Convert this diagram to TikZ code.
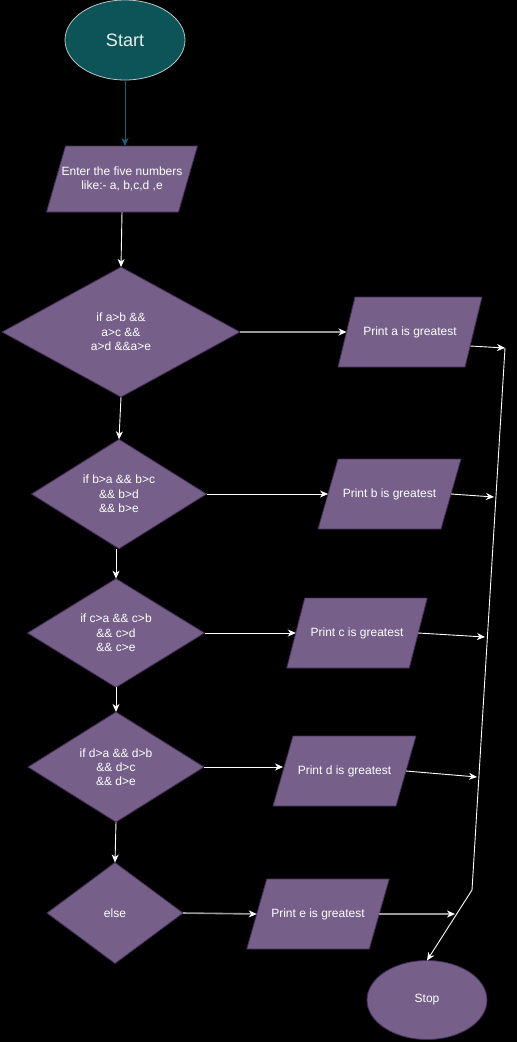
\documentclass[tikz,border=0pt]{standalone}
\usepackage{fontspec}
\setmainfont{Liberation Sans}
\usetikzlibrary{shapes.geometric,arrows.meta,backgrounds,calc}
\definecolor{pfill}{HTML}{76608A}
\definecolor{pline}{HTML}{432D57}
\definecolor{tfill}{HTML}{0C5458}
\definecolor{tline}{HTML}{B8C4C8}
\definecolor{tarrow}{HTML}{1B5E7B}
\definecolor{garrow}{HTML}{9A9A9A}
\definecolor{ttext}{HTML}{E6EEF0}
\tikzset{
  txt/.style={text=white, font=\fontsize{12}{14.3}\selectfont, align=center},
  dia/.style={diamond, fill=pfill, draw=pline, line width=0.8pt, inner sep=0pt, outer sep=0pt, txt},
  paranode/.style={rectangle, inner sep=0pt, outer sep=0pt, txt},
  parashape/.style={fill=pfill, draw=pline, line width=0.8pt},
  arr/.style={draw=white, line width=0.9pt, -{Stealth[length=8pt,width=7pt,inset=2.5pt,color=white]}},
  garr/.style={draw=garrow, line width=1.6pt, -{Stealth[length=8pt,width=7pt,inset=2.5pt,color=white]}},
  tarr/.style={draw=tarrow, line width=0.9pt, -{Stealth[length=8pt,width=7pt,inset=2.5pt,color=tarrow]}},
}
\newcommand\drawpara[2]{%
  \path[parashape] ($(#1.north west)+(#2/2,0)$) -- ($(#1.north east)+(#2/2,0)$)
    -- ($(#1.south east)-(#2/2,0)$) -- ($(#1.south west)-(#2/2,0)$) -- cycle;}
\begin{document}
\begin{tikzpicture}[x=1pt,y=-1pt]
  \useasboundingbox (0,0) rectangle (517,1042);

  % terminals
  \node[ellipse, minimum width=120pt, minimum height=80pt, fill=tfill, draw=tline,
        line width=0.8pt, inner sep=0pt, outer sep=0pt, text=ttext,
        font=\fontsize{18}{20}\selectfont] (start) at (125,40) {Start};
  \node[ellipse, minimum width=120pt, minimum height=79pt, fill=pfill, draw=pline,
        line width=0.8pt, inner sep=0pt, outer sep=0pt, txt] (stop) at (427,1000) {Stop};

  % input
  \node[paranode, minimum width=132pt, minimum height=66pt] (in) at (122,179)
       {Enter the five numbers\\like:- a, b,c,d ,e};

  % decisions
  \node[dia, minimum width=238pt, minimum height=130pt] (d1) at (121,332)
       {if a>b \&\&\\ a>c \&\&\\ a>d \&\&a>e};
  \node[dia, minimum width=175pt, minimum height=105pt] (d2) at (119,494)
       {if b>a \&\& b>c\\ \&\& b>d\\ \&\& b>e};
  \node[dia, minimum width=177pt, minimum height=105pt] (d3) at (116,633)
       {if c>a \&\& c>b\\ \&\& c>d\\ \&\& c>e};
  \node[dia, minimum width=176pt, minimum height=102pt] (d4) at (116,767)
       {if d>a \&\& d>b\\ \&\& d>c\\ \&\& d>e};
  \node[dia, minimum width=136pt, minimum height=101pt] (d5) at (115,913) {else};

  % outputs
  \node[paranode, minimum width=127pt, minimum height=70pt] (pa) at (410,332) {Print a is greatest};
  \node[paranode, minimum width=123pt, minimum height=70pt] (pb) at (389.5,494) {Print b is greatest};
  \node[paranode, minimum width=122.5pt, minimum height=70pt] (pc) at (357,633) {Print c is greatest};
  \node[paranode, minimum width=123pt, minimum height=70pt] (pd) at (344.5,771) {Print d is greatest};
  \node[paranode, minimum width=122.5pt, minimum height=70pt] (pe) at (318,914) {Print e is greatest};

  \begin{scope}[on background layer]
    \fill[black] (0,0) rectangle (517,1042);
    \drawpara{in}{19}
    \drawpara{pa}{17}
    \drawpara{pb}{20}
    \drawpara{pc}{18}
    \drawpara{pd}{20}
    \drawpara{pe}{20}
  \end{scope}

  % collector line points
  \coordinate (c1) at (505,348);
  \coordinate (c2) at (472,890);
  \coordinate (eb) at (494,497);
  \coordinate (ec) at (485,637);
  \coordinate (ed) at (477,777);
  \coordinate (ee) at (455,914);

  % connectors
  \draw[tarr] (start.south) -- (start.south |- in.north);
  \draw[arr] (in.south) -- (d1.north);
  \draw[arr] (d1.south) -- (d2.north);
  \draw[arr] (d3.north |- d2.south) -- (d3.north);
  \draw[arr] (d3.south) -- (d4.north);
  \draw[arr] (d4.south) -- (d5.north);

  \draw[garr] (d1.east) -- (pa.west);
  \draw[arr] (d2.east) -- (pb.west);
  \draw[arr] (d3.east) -- (pc.west);
  \draw[arr] (d4.east) -- (d4.east -| pd.west);
  \draw[garr] (d5.east) -- (pe.west);

  \draw[arr] ([xshift=-3pt,yshift=-14pt]pa.east) -- (c1);
  \draw[arr] (pb.east) -- (eb);
  \draw[arr] (pc.east) -- (ec);
  \draw[arr] (pd.east) -- (ed);
  \draw[garr] (pe.east) -- (ee);
  \draw[arr] (c1) -- (c2) -- (stop.north);
\end{tikzpicture}
\end{document}
